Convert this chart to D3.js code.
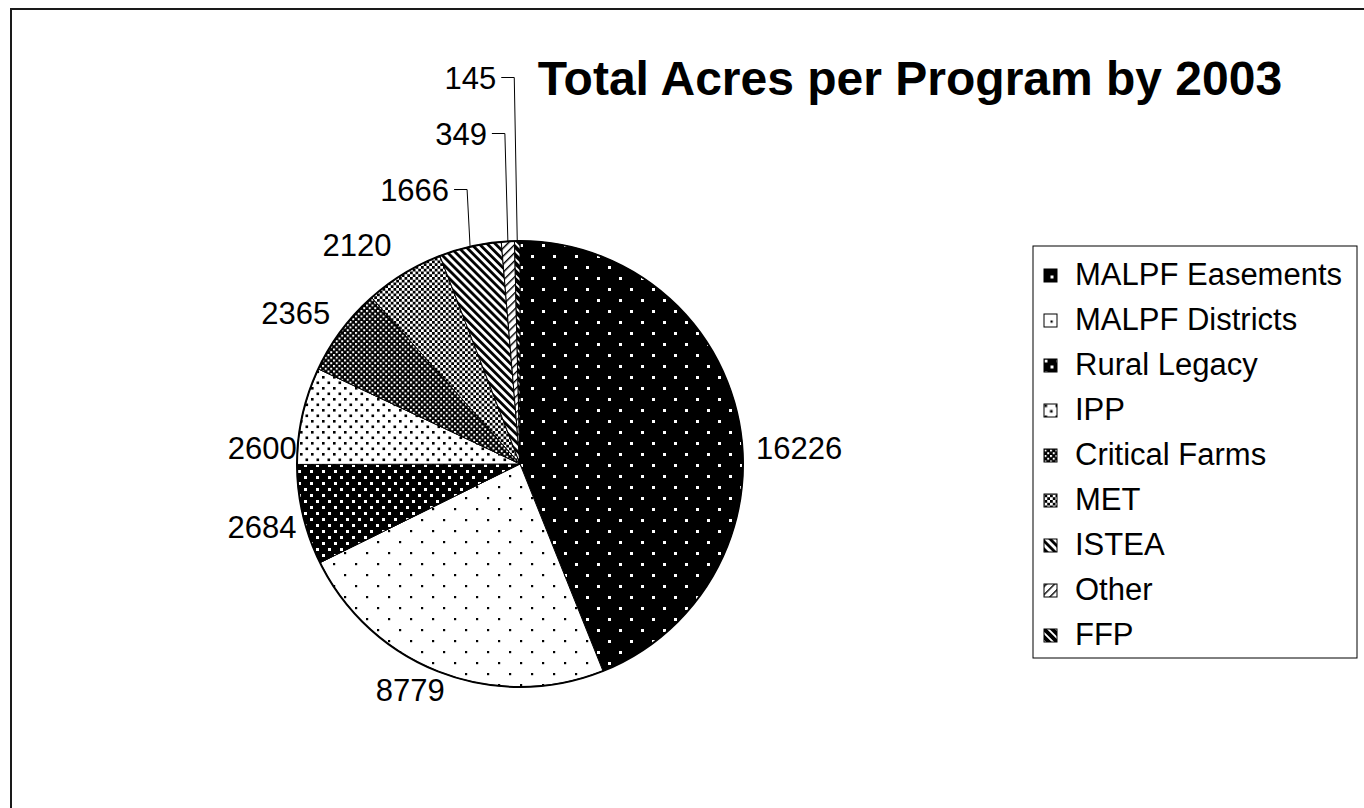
<!DOCTYPE html>
<html>
<head>
<meta charset="utf-8">
<script src="https://cdn.jsdelivr.net/npm/d3@7/dist/d3.min.js"></script>
<style>
  body { margin: 0; background: #fff; }
  text { font-family: "Liberation Sans", Arial, sans-serif; fill: #000; }
</style>
</head>
<body>
<div id="main"></div>
<script>
const programs = [
  "MALPF Easements",
  "MALPF Districts",
  "Rural Legacy",
  "IPP",
  "Critical Farms",
  "MET",
  "ISTEA",
  "Other",
  "FFP",
];
const acres = [16226, 8779, 2684, 2600, 2365, 2120, 1666, 349, 145];
const chartTitle = "Total Acres per Program by 2003";

const width = 1364;
const height = 808;
const cx = 520;
const cy = 464;
const radius = 223;

// fill patterns, one per program (black and white like the original)
const patternSpecs = [
  { type: "dots", size: 22, bg: "#000", fg: "#fff", dot: 3 },
  { type: "dots", size: 22, bg: "#fff", fg: "#000", dot: 2.2 },
  { type: "dots", size: 12, bg: "#000", fg: "#fff", dot: 3 },
  { type: "dots", size: 11, bg: "#fff", fg: "#000", dot: 2.6 },
  { type: "dots", size: 5.5, bg: "#000", fg: "#fff", dot: 2 },
  { type: "dots", size: 5.5, bg: "#fff", fg: "#000", dot: 2.75 },
  { type: "stripes", size: 5.7, fg: "#000", line: 2.8, angle: -45 },
  { type: "stripes", size: 5.7, fg: "#000", line: 1.4, angle: 45 },
  { type: "stripes", size: 5.7, fg: "#000", line: 3.8, angle: -45 },
];

// manual label nudges (the labels were dragged a bit in the original)
const labelNudge = [[19, 34], [-15, -22], [0, 2], [1, 41], [-12, 7], [-25, 7]];

const svg = d3.select("#main").append("svg").attr("width", width).attr("height", height);
const defs = svg.append("defs");

const makePattern = (id, spec, x, y) => {
  const p = defs
    .append("pattern")
    .attr("id", id)
    .attr("patternUnits", "userSpaceOnUse")
    .attr("x", x)
    .attr("y", y)
    .attr("width", spec.size)
    .attr("height", spec.size);
  if (spec.type === "dots") {
    p.append("rect").attr("width", spec.size).attr("height", spec.size).attr("fill", spec.bg);
    [[0, 0], [spec.size / 2, spec.size / 2]].forEach(([dx, dy]) => {
      p.append("rect")
        .attr("x", dx)
        .attr("y", dy)
        .attr("width", spec.dot)
        .attr("height", spec.dot)
        .attr("fill", spec.fg);
    });
  } else {
    p.attr("patternTransform", `rotate(${spec.angle})`);
    p.append("rect").attr("width", spec.size).attr("height", spec.size).attr("fill", "#fff");
    p.append("rect").attr("width", spec.line).attr("height", spec.size).attr("fill", spec.fg);
  }
};

patternSpecs.forEach((spec, i) => makePattern(`pat${i}`, spec, 0, 0));

// outer frame
svg
  .append("rect")
  .attr("x", 11)
  .attr("y", 9)
  .attr("width", width)
  .attr("height", height)
  .attr("fill", "none")
  .attr("stroke", "#1a1a1a")
  .attr("stroke-width", 2);

svg
  .append("text")
  .attr("x", 910)
  .attr("y", 95)
  .attr("text-anchor", "middle")
  .style("font-size", "48px")
  .style("font-weight", "bold")
  .text(chartTitle);

const pie = d3.pie().sort(null).value((d) => d);
const arcs = pie(acres);
const arc = d3.arc().innerRadius(0).outerRadius(radius);

const chart = svg.append("g").attr("transform", `translate(${cx},${cy})`);

chart
  .selectAll("path.slice")
  .data(arcs)
  .enter()
  .append("path")
  .attr("class", "slice")
  .attr("d", arc)
  .attr("fill", (d, i) => `url(#pat${i})`)
  .attr("stroke", "#000")
  .attr("stroke-width", 1);

chart
  .append("circle")
  .attr("r", radius)
  .attr("fill", "none")
  .attr("stroke", "#000")
  .attr("stroke-width", 2);

const midAngle = (d) => (d.startAngle + d.endAngle) / 2;
const polar = (a, r) => [r * Math.sin(a), -r * Math.cos(a)];

// labels placed around the pie
arcs.forEach((d, i) => {
  if (i < labelNudge.length) {
    const [x, y] = polar(midAngle(d), radius + 42);
    chart
      .append("text")
      .attr("x", x + labelNudge[i][0])
      .attr("y", y + labelNudge[i][1])
      .attr("dy", "0.36em")
      .attr("text-anchor", "middle")
      .style("font-size", "31px")
      .text(d.value);
  } else {
    // small slices get stacked labels with leader lines
    const k = i - labelNudge.length;
    const [ex, ey] = polar(midAngle(d), radius);
    const ly = -radius - 51.5 - 56 * k;
    const right = ex - 21;
    chart
      .append("text")
      .attr("x", right)
      .attr("y", ly)
      .attr("dy", "0.36em")
      .attr("text-anchor", "end")
      .style("font-size", "31px")
      .text(d.value);
    chart
      .append("path")
      .attr("d", d3.line()([[right + 5, ly], [ex - 3, ly], [ex, ey]]))
      .attr("fill", "none")
      .attr("stroke", "#000")
      .attr("stroke-width", 1);
  }
});

// legend
const legendX = 1033;
const legendY = 246;
const rowGap = 45;
const legend = svg.append("g").attr("id", "legend");

legend
  .append("rect")
  .attr("x", legendX)
  .attr("y", legendY)
  .attr("width", 324)
  .attr("height", 412)
  .attr("fill", "#fff")
  .attr("stroke", "#000")
  .attr("stroke-width", 1);

programs.forEach((name, i) => {
  const base = legendY + 39 + i * rowGap;
  const ix = legendX + 11;
  const iy = base - 16;
  const spec = patternSpecs[i];
  const off = spec.type === "dots" ? (spec.size > 12 ? -4.5 : 0.5) : 0;
  makePattern(`leg${i}`, spec, ix + off, iy + off);
  legend
    .append("rect")
    .attr("x", ix)
    .attr("y", iy)
    .attr("width", 13)
    .attr("height", 13)
    .attr("fill", `url(#leg${i})`)
    .attr("stroke", "#000")
    .attr("stroke-width", 1);
  legend
    .append("text")
    .attr("x", legendX + 42)
    .attr("y", base)
    .style("font-size", "31px")
    .text(name);
});
</script>
</body>
</html>
